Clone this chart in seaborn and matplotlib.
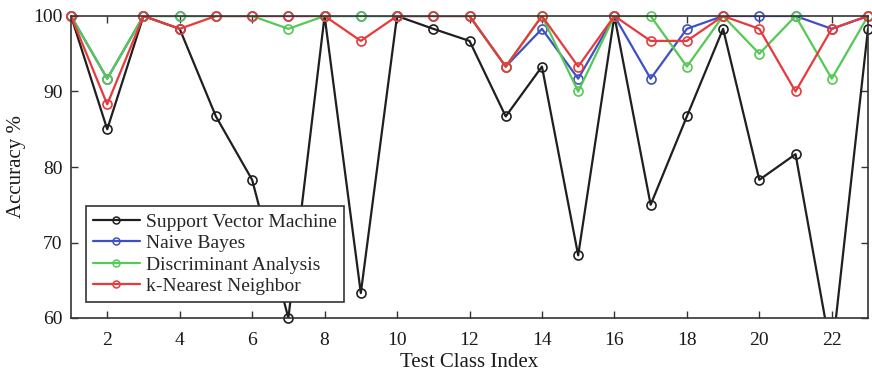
import numpy as np
import pandas as pd
import matplotlib
matplotlib.use("Agg")
import matplotlib.pyplot as plt
from matplotlib.lines import Line2D
import seaborn as sns

# Per-class test accuracy (%) for each classifier
class_index = list(range(1, 24))
svm = [100, 85.0, 100, 98.3, 86.7, 78.3, 60.0, 100, 63.3, 100, 98.3, 96.7,
       86.7, 93.3, 68.3, 100, 75.0, 86.7, 98.3, 78.3, 81.7, 55.0, 98.3]
naive_bayes = [100, 91.7, 100, 100, 100, 100, 100, 100, 100, 100, 100, 100,
               93.3, 98.3, 91.7, 100, 91.7, 98.3, 100, 100, 100, 98.3, 100]
discriminant = [100, 91.7, 100, 100, 100, 100, 98.3, 100, 100, 100, 100, 100,
                93.3, 100, 90.0, 100, 100, 93.3, 100, 95.0, 100, 91.7, 100]
knn = [100, 88.3, 100, 98.3, 100, 100, 100, 100, 96.7, 100, 100, 100,
       93.3, 100, 93.3, 100, 96.7, 96.7, 100, 98.3, 90.0, 98.3, 100]

series_names = ["Support Vector Machine", "Naive Bayes",
                "Discriminant Analysis", "k-Nearest Neighbor"]
series_values = [svm, naive_bayes, discriminant, knn]
colors = ["#1f1f1f", "#3f50c4", "#55c955", "#e8393b"]

y_low, y_high = 60, 100

df = pd.concat(
    [pd.DataFrame({"cls": class_index, "acc": vals, "model": name})
     for name, vals in zip(series_names, series_values)],
    ignore_index=True,
)

sns.set_theme(style="white")
plt.rcParams["font.family"] = ["Liberation Serif", "DejaVu Serif"]

fig = plt.figure(figsize=(8.72, 3.74), dpi=100)
ax = fig.add_axes([71 / 872, 1 - 318 / 374, 797 / 872, 302 / 374])

for name, col in zip(series_names, colors):
    sub = df[df["model"] == name]
    # connecting lines, clipped to the axes box
    sns.lineplot(data=sub, x="cls", y="acc", ax=ax, color=col,
                 linewidth=1.6, legend=False, estimator=None, sort=False)
    # open circle markers for points inside the range, drawn whole
    inside = sub[(sub["acc"] >= y_low) & (sub["acc"] <= y_high)]
    sns.lineplot(data=inside, x="cls", y="acc", ax=ax, color=col,
                 linestyle="", marker="o", markersize=6.5,
                 markerfacecolor="none", markeredgecolor=col,
                 markeredgewidth=1.2, legend=False, estimator=None,
                 sort=False, clip_on=False)

ax.set_xlim(1, 23)
ax.set_ylim(y_low, y_high)
ax.set_xticks(range(2, 23, 2))
ax.set_yticks(range(60, 101, 10))
ax.tick_params(axis="both", which="both", direction="in", length=5,
               width=1.0, color="#333333", labelsize=14,
               top=True, right=True, bottom=True, left=True,
               labelcolor="#1a1a1a")
ax.tick_params(axis="x", pad=10)
ax.tick_params(axis="y", pad=6)
for sp in ax.spines.values():
    sp.set_visible(True)
    sp.set_color("#333333")
    sp.set_linewidth(1.2)

ax.set_xlabel("Test Class Index", fontsize=15, color="#1a1a1a", labelpad=3)
ax.set_ylabel("Accuracy %", fontsize=15, color="#1a1a1a", labelpad=5)

handles = [Line2D([0], [0], color=c, linewidth=1.6, marker="o",
                  markersize=5, markerfacecolor="none",
                  markeredgecolor=c, markeredgewidth=1.1)
           for c in colors]
leg = ax.legend(handles, series_names, loc="lower left",
                bbox_to_anchor=(0.019, 0.053), borderaxespad=0,
                fontsize=14, frameon=True, fancybox=False, numpoints=1,
                handlelength=2.4, handletextpad=0.35, labelspacing=0.2,
                borderpad=0.35)
leg.get_frame().set_edgecolor("#333333")
leg.get_frame().set_linewidth(1.2)
leg.get_frame().set_alpha(1)

fig.savefig("out.png", dpi=100)
